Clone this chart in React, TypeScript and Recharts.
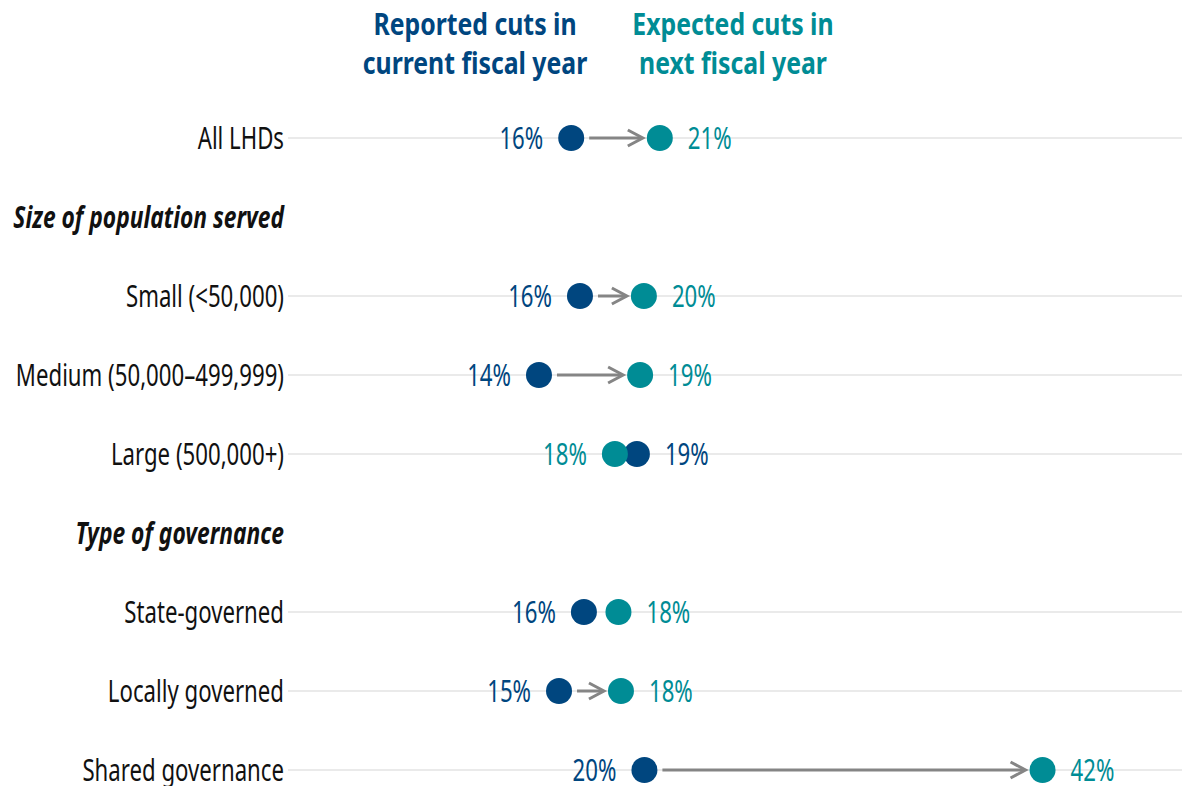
import { ScatterChart, Scatter, XAxis, YAxis, ReferenceLine } from 'recharts'

const NAVY = '#00467F'
const TEAL = '#008C95'
const ARROW = '#858585'
const GRID = '#e3e3e3'
const FONT = "'Noto Sans', 'Open Sans', sans-serif"
// the original face is a condensed one, so text is squeezed horizontally
const SQUEEZE = 0.74
const SQUEEZE_HEAD = 0.76

// rows top to bottom; headers have no values
const categories = [
  'All LHDs',
  'Size of population served',
  'Small (<50,000)',
  'Medium (50,000–499,999)',
  'Large (500,000+)',
  'Type of governance',
  'State-governed',
  'Locally governed',
  'Shared governance',
]
const isHeader = [false, true, false, false, false, true, false, false, false]
const reported: (number | null)[] = [15.6, null, 16.09, 13.8, 19.27, null, 16.31, 14.92, 19.69]
const expected: (number | null)[] = [20.55, null, 19.66, 19.45, 18.04, null, 18.24, 18.38, 41.93]

const rowIdx = categories.map((_, i) => i)

const reportedData = rowIdx
  .filter(i => reported[i] != null)
  .map(i => ({ row: i, value: reported[i] as number, other: expected[i] as number }))
const expectedData = rowIdx
  .filter(i => expected[i] != null)
  .map(i => ({ row: i, value: expected[i] as number, other: reported[i] as number }))

const makeDot = (color: string) => (props: any) => {
  const { cx, cy, payload } = props
  const left = payload.value < payload.other
  return (
    <g>
      <circle cx={cx} cy={cy} r={13} fill={color} />
      <g transform={`translate(${left ? cx - 28 : cx + 28},${cy}) scale(${SQUEEZE},1)`}>
        <text
          x={0}
          y={0}
          dy="0.36em"
          textAnchor={left ? 'end' : 'start'}
          fill={color}
          fontSize={30}
          fontFamily={FONT}
        >
          {`${Math.round(payload.value)}%`}
        </text>
      </g>
    </g>
  )
}

// arrow from reported to expected, only drawn when there is room for it
const ArrowShape = (props: any) => {
  const { x1, y1, x2 } = props
  if (x1 == null || x2 == null) return null
  if (x2 < x1 || x2 - x1 < 45) return null
  const from = x1 + 18
  const tip = x2 - 17
  return (
    <g>
      <line x1={from} y1={y1} x2={tip - 1} y2={y1} stroke={ARROW} strokeWidth={3} />
      <polyline
        points={`${tip - 15},${y1 - 8} ${tip},${y1} ${tip - 15},${y1 + 8}`}
        fill="none"
        stroke={ARROW}
        strokeWidth={3}
      />
    </g>
  )
}

const CategoryTick = (props: any) => {
  const { y, payload } = props
  const i = payload.value as number
  const header = isHeader[i]
  return (
    <g transform={`translate(284,${y}) scale(${header ? SQUEEZE_HEAD : SQUEEZE},1)`}>
      <text
        x={0}
        y={0}
        dy="0.36em"
        textAnchor="end"
        fill="#111"
        fontSize={30}
        fontFamily={FONT}
        fontWeight={header ? 700 : 400}
        fontStyle={header ? 'italic' : 'normal'}
      >
        {categories[i]}
      </text>
    </g>
  )
}

const headStyle = {
  position: 'absolute' as const,
  top: 4,
  width: 400,
  textAlign: 'center' as const,
  fontFamily: FONT,
  fontWeight: 700,
  fontSize: 31,
  lineHeight: '39px',
  transform: 'scaleX(0.8)',
  transformOrigin: '50% 50%',
}

export default function App() {
  return (
    <div style={{ position: 'absolute', left: 0, top: 0, width: 1182, height: 786, background: '#fff' }}>
      <div style={{ ...headStyle, left: 275, color: NAVY }}>
        Reported cuts in<br />current fiscal year
      </div>
      <div style={{ ...headStyle, left: 533, color: TEAL }}>
        Expected cuts in<br />next fiscal year
      </div>
      <ScatterChart width={1182} height={786} margin={{ top: 138, right: 0, bottom: 16, left: 0 }}>
        <XAxis type="number" dataKey="value" domain={[-0.22, 49.72]} hide />
        <YAxis
          type="number"
          dataKey="row"
          domain={[0, 8]}
          reversed
          ticks={rowIdx}
          interval={0}
          width={288}
          axisLine={false}
          tickLine={false}
          tick={<CategoryTick />}
        />
        {rowIdx
          .filter(i => !isHeader[i])
          .map(i => (
            <ReferenceLine key={`g${i}`} y={i} stroke={GRID} strokeWidth={1.5} />
          ))}
        {rowIdx
          .filter(i => !isHeader[i])
          .map(i => (
            <ReferenceLine
              key={`a${i}`}
              segment={[
                { x: reported[i] as number, y: i },
                { x: expected[i] as number, y: i },
              ]}
              shape={<ArrowShape />}
            />
          ))}
        <Scatter data={reportedData} shape={makeDot(NAVY)} isAnimationActive={false} />
        <Scatter data={expectedData} shape={makeDot(TEAL)} isAnimationActive={false} />
      </ScatterChart>
    </div>
  )
}
